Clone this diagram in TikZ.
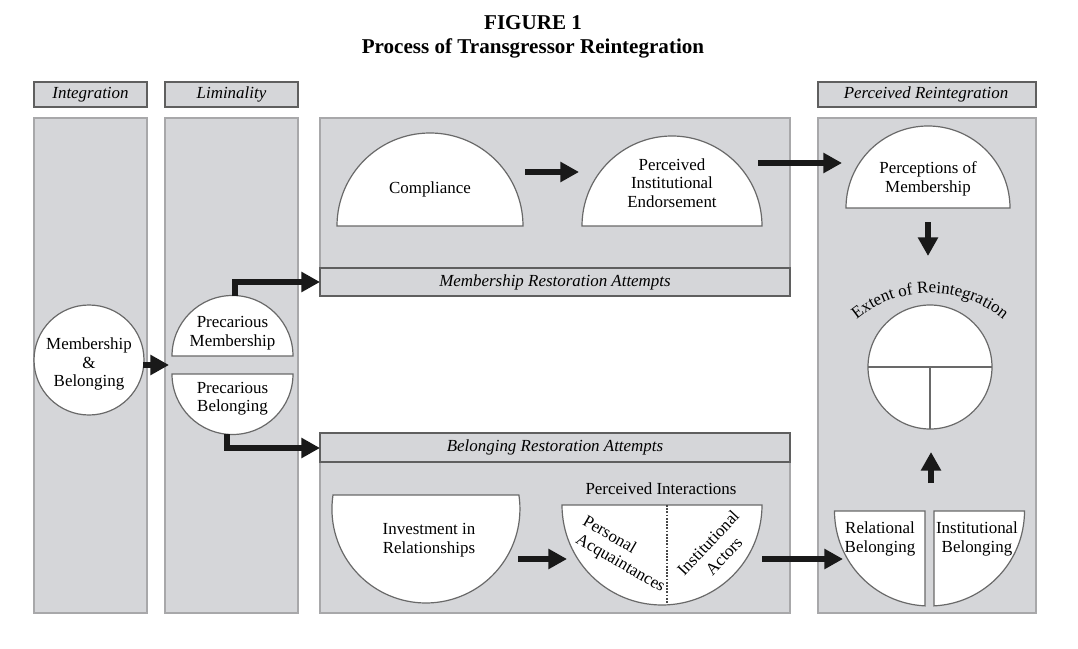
\documentclass[tikz,border=0pt]{standalone}
\usepackage{fontspec}
\setmainfont{Liberation Serif}
\usetikzlibrary{arrows.meta,decorations.text}
\definecolor{panelfill}{RGB}{213,214,217}
\definecolor{panelline}{RGB}{168,168,170}
\definecolor{hdrline}{RGB}{95,95,95}
\definecolor{shapeline}{RGB}{105,105,105}
\definecolor{arrowcol}{RGB}{25,25,25}
\newcommand\bodyfont{\fontsize{12.7}{13.8}\selectfont}
\begin{document}
\begin{tikzpicture}[x=0.75pt,y=-0.75pt,
  panel/.style={fill=panelfill,draw=panelline,line width=1pt},
  hdr/.style={fill=panelfill,draw=hdrline,line width=1.1pt},
  blob/.style={fill=white,draw=shapeline,line width=0.9pt},
  txt/.style={font=\bodyfont,align=center,inner sep=0pt},
  htxt/.style={font=\bodyfont\itshape,inner sep=0pt},
  ttl/.style={font=\fontsize{15.8}{18}\selectfont\bfseries,inner sep=0pt,anchor=base},
  bigarrow/.style={draw=arrowcol,line width=4.7pt,-{Triangle[length=14pt,width=14.5pt]},line join=miter},
]
\useasboundingbox (0,0) rectangle (1078,649);
\fill[white] (0,0) rectangle (1078,649);

% title
\node[ttl] (fig) at (533,30) {FIGURE 1};
\node[ttl] (title) at (533,54) {Process of Transgressor Reintegration};

% panels
\draw[panel] (34,118) rectangle (147,613);
\draw[panel] (165,118) rectangle (298,613);
\draw[panel] (320,118) rectangle (790,296);
\draw[panel] (320,433) rectangle (790,613);
\draw[panel] (818,118) rectangle (1036,613);

% headers
\draw[hdr] (34,82) rectangle (147,107);
\node[htxt] (hint) at (90.5,94.5) {Integration};
\draw[hdr] (165,82) rectangle (298,107);
\node[htxt] (hlim) at (231.5,94.5) {Liminality};
\draw[hdr] (818,82) rectangle (1036,107);
\node[htxt] (hper) at (926,94.5) {Perceived Reintegration};
\draw[hdr] (320,268) rectangle (790,296);
\node[htxt] (hmra) at (555,282) {Membership Restoration Attempts};
\draw[hdr] (320,433) rectangle (790,462);
\node[htxt] (hbra) at (555,447.5) {Belonging Restoration Attempts};

% integration
\draw[blob] (89,360) circle[radius=55];
\node[txt] (mb) at (89,364) {Membership\\\&\\Belonging};

% liminality
\draw[blob] (172,356) arc[start angle=180,end angle=360,radius=60.5] -- cycle;
\node[txt] (pm) at (232.5,333) {Precarious\\Membership};
\draw[blob] (172,374) arc[start angle=180,end angle=0,radius=60.5] -- cycle;
\node[txt] (pb) at (232.5,399) {Precarious\\Belonging};

% membership restoration
\draw[blob] (337,226) arc[start angle=180,end angle=360,radius=93] -- cycle;
\node[txt] (comp) at (430,189) {Compliance};
\draw[blob] (582,226) arc[start angle=180,end angle=360,radius=90] -- cycle;
\node[txt] (pie) at (672,183) {Perceived\\Institutional\\Endorsement};

% belonging restoration
\draw[blob] (333,495) arc[start angle=188.56,end angle=-8.56,radius=94] -- cycle;
\node[txt] (inv) at (429,540) {Investment in\\Relationships};
\node[txt] (pint) at (661,489) {Perceived Interactions};
\draw[blob] (562,505) arc[start angle=180,end angle=0,radius=100] -- cycle;
\draw[arrowcol!80,line width=1.3pt,dash pattern=on 1.3pt off 1.1pt] (667,505) -- (667,604);
\node[txt,rotate=-30] (pers) at (610,534) {Personal};
\node[txt,rotate=-30] (acq) at (620,564) {Acquaintances};
\node[txt,rotate=47] (inst) at (708,543) {Institutional};
\node[txt,rotate=47] (act) at (724,556) {Actors};

% perceived reintegration
\draw[blob] (846,208) arc[start angle=180,end angle=360,radius=82] -- cycle;
\node[txt] (pom) at (928,179) {Perceptions of\\Membership};
\draw[blob] (930,367) circle[radius=62];
\draw[draw=shapeline,line width=0.9pt] (868,367) -- (992,367) (930,367) -- (930,429);
\path[decorate,decoration={text along path,text={|\bodyfont|Extent of Reintegration},text align=center}]
  ([shift={(222:115)}]930,408) arc[start angle=222,end angle=318,radius=115];
\draw[blob] (925,511) -- (834.5,511) arc[start angle=180,end angle=92.7,radius=95] -- cycle;
\node[txt] (rb) at (880,539) {Relational\\Belonging};
\draw[blob] (934,511) -- ([shift={(87.3:95)}]929.5,511) arc[start angle=87.3,end angle=0,radius=95] -- cycle;
\node[txt] (ib) at (977,539) {Institutional\\Belonging};

% arrow end points
\coordinate (mbR) at (143,365);
\coordinate (limL) at (169,365);
\coordinate (pmTop) at (235,296);
\coordinate (mraL) at (320,282);
\coordinate (pbBot) at (227,434);
\coordinate (braL) at (320,448);
\coordinate (compR) at (525,172);
\coordinate (pieL) at (579,172);
\coordinate (pieR) at (758,163);
\coordinate (pomL) at (842,163);
\coordinate (pomB) at (928,222);
\coordinate (extT) at (928,256);
\coordinate (blgT) at (931,483);
\coordinate (extB) at (931,452);
\coordinate (invR) at (518,559);
\coordinate (pintL) at (567,559);
\coordinate (pintR) at (762,559);
\coordinate (rbL) at (843,559);

% arrows
\draw[bigarrow] (mbR) -- (limL);
\draw[bigarrow] (pmTop) |- (mraL);
\draw[bigarrow] (pbBot) |- (braL);
\draw[bigarrow] (compR) -- (pieL);
\draw[bigarrow] (pieR) -- (pomL);
\draw[bigarrow] (pomB) -- (extT);
\draw[bigarrow] (blgT) -- (extB);
\draw[bigarrow] (invR) -- (pintL);
\draw[bigarrow] (pintR) -- (rbL);
\end{tikzpicture}
\end{document}
